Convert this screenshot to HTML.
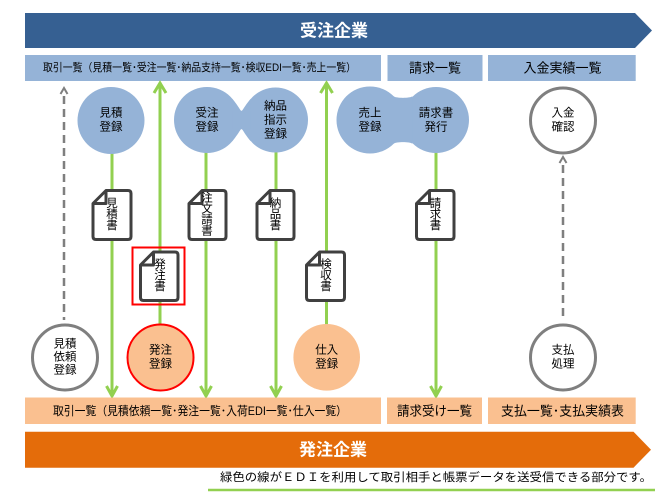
<!DOCTYPE html>
<html><head><meta charset="utf-8"><style>
html,body{margin:0;padding:0;background:#fff;}
svg{display:block;}
text{font-family:"Liberation Sans","Noto Sans CJK JP",sans-serif;fill:#000;}
</style></head><body>
<svg width="669" height="502" viewBox="0 0 669 502" xmlns="http://www.w3.org/2000/svg">
<!-- top banner -->
<polygon points="25,13 635,13 652,30.5 635,48 25,48" fill="#366092"/>
<text x="334" y="31" font-size="17" font-weight="bold" text-anchor="middle" dominant-baseline="central" style="fill:#fff">受注企業</text>
<!-- light blue boxes -->
<rect x="25" y="55" width="356" height="26" fill="#95B3D7"/>
<rect x="387.5" y="55" width="95" height="26" fill="#95B3D7"/>
<rect x="488" y="55" width="147.7" height="26" fill="#95B3D7"/>
<text x="43" y="68" font-size="11" dominant-baseline="central" textLength="313" lengthAdjust="spacingAndGlyphs">取引一覧（見積一覧･受注一覧･納品支持一覧･検収EDI一覧･売上一覧）</text>
<text x="409" y="68" font-size="13" dominant-baseline="central" textLength="52" lengthAdjust="spacingAndGlyphs">請求一覧</text>
<text x="523.5" y="68" font-size="13" dominant-baseline="central" textLength="78" lengthAdjust="spacingAndGlyphs">入金実績一覧</text>

<!-- gray dashed lines -->
<g stroke="#7F7F7F" stroke-width="2.5" fill="none">
<line x1="64" y1="96" x2="64" y2="320" stroke-dasharray="8 5"/>
<polyline points="60.5,94 64,88 67.5,94" stroke-width="2"/>
<line x1="563" y1="165" x2="563" y2="318" stroke-dasharray="8 5"/>
<polyline points="559.5,163 563,157 566.5,163" stroke-width="2"/>
</g>

<!-- green lines -->
<g stroke="#92D050" stroke-width="3" fill="none">
<line x1="112" y1="150" x2="112" y2="395"/>
<polyline points="106.5,386 112,396 117.5,386"/>
<line x1="160" y1="85" x2="160" y2="326"/>
<polyline points="154,93 160,83 166,93"/>
<line x1="206" y1="150" x2="206" y2="395"/>
<polyline points="200.5,386 206,396 211.5,386"/>
<line x1="276" y1="150" x2="276" y2="395"/>
<polyline points="270.5,386 276,396 281.5,386"/>
<line x1="326.5" y1="85" x2="326.5" y2="326"/>
<polyline points="320.5,93 326.5,83 332.5,93"/>
<line x1="436" y1="150" x2="436" y2="395"/>
<polyline points="430.5,386 436,396 441.5,386"/>
</g>

<!-- documents -->
<g stroke="#404040" stroke-width="3" fill="#fff" stroke-linejoin="round">
<path d="M93,203.5 L106,190.5 L128,190.5 Q131,190.5 131,193.5 L131,236.5 Q131,239.5 128,239.5 L96,239.5 Q93,239.5 93,236.5 Z"/>
<path d="M106,190.5 L106,203.5 L93,203.5" fill="none"/>
<path d="M189,203.5 L202,190.5 L223,190.5 Q226,190.5 226,193.5 L226,236.5 Q226,239.5 223,239.5 L192,239.5 Q189,239.5 189,236.5 Z"/>
<path d="M202,190.5 L202,203.5 L189,203.5" fill="none"/>
<path d="M257,203.5 L270,190.5 L291,190.5 Q294,190.5 294,193.5 L294,236.5 Q294,239.5 291,239.5 L260,239.5 Q257,239.5 257,236.5 Z"/>
<path d="M270,190.5 L270,203.5 L257,203.5" fill="none"/>
<path d="M416.5,203.5 L429.5,190.5 L451,190.5 Q454,190.5 454,193.5 L454,236.5 Q454,239.5 451,239.5 L419.5,239.5 Q416.5,239.5 416.5,236.5 Z"/>
<path d="M429.5,190.5 L429.5,203.5 L416.5,203.5" fill="none"/>
<path d="M140.5,265 L153.5,252 L175,252 Q178,252 178,255 L178,297.5 Q178,300.5 175,300.5 L143.5,300.5 Q140.5,300.5 140.5,297.5 Z"/>
<path d="M153.5,252 L153.5,265 L140.5,265" fill="none"/>
<path d="M306.5,265 L319.5,252 L341.5,252 Q344.5,252 344.5,255 L344.5,297.5 Q344.5,300.5 341.5,300.5 L309.5,300.5 Q306.5,300.5 306.5,297.5 Z"/>
<path d="M319.5,252 L319.5,265 L306.5,265" fill="none"/>
</g>
<rect x="132.5" y="247.5" width="52" height="57" fill="none" stroke="#FF0000" stroke-width="2"/>

<g font-size="11.5" text-anchor="middle" dominant-baseline="central">
<text x="112" y="204">見</text><text x="112" y="215">積</text><text x="112" y="226">書</text>
<text x="207" y="198.5">注</text><text x="207" y="209.5">文</text><text x="207" y="220.5">請</text><text x="207" y="231.5">書</text>
<text x="275.5" y="204">納</text><text x="275.5" y="215">品</text><text x="275.5" y="226">書</text>
<text x="435.5" y="204">請</text><text x="435.5" y="215">求</text><text x="435.5" y="226">書</text>
<text x="160" y="265">発</text><text x="160" y="276">注</text><text x="160" y="287">書</text>
<text x="326" y="265">検</text><text x="326" y="276">収</text><text x="326" y="287">書</text>
</g>

<!-- top circles -->
<g fill="#95B3D7">
<circle cx="111" cy="120.5" r="33.5"/>
<circle cx="207" cy="120" r="33"/>
<circle cx="275.5" cy="120" r="32.5"/>
<path d="M232.3,98.8 C245.8,114.9 237.2,114.9 250.7,98.8 L250.7,141.2 C237.2,125.1 245.8,125.1 232.3,141.2 Z"/>
<circle cx="370" cy="120" r="33.5"/>
<circle cx="436" cy="120" r="33"/>
<path d="M393.7,96.3 C395.8,98.4 410.2,98.4 412.3,96.3 L412.3,143.7 C410.2,141.6 395.8,141.6 393.7,143.7 Z"/>
</g>
<circle cx="563" cy="120.5" r="32.5" fill="#fff" stroke="#7F7F7F" stroke-width="3"/>

<g font-size="11.5" text-anchor="middle" dominant-baseline="central">
<text x="111" y="113.5">見積</text><text x="111" y="127.5">登録</text>
<text x="207" y="113.5">受注</text><text x="207" y="127.5">登録</text>
<text x="275.5" y="106.5">納品</text><text x="275.5" y="120.5">指示</text><text x="275.5" y="134.5">登録</text>
<text x="370" y="113.5">売上</text><text x="370" y="127.5">登録</text>
<text x="436" y="113.5">請求書</text><text x="436" y="127.5">発行</text>
<text x="563" y="113.5">入金</text><text x="563" y="127.5">確認</text>
</g>

<!-- bottom circles -->
<circle cx="65" cy="357.5" r="32.5" fill="#fff" stroke="#7F7F7F" stroke-width="3"/>
<circle cx="160.5" cy="357.5" r="33" fill="#FAC090" stroke="#FF0000" stroke-width="2"/>
<circle cx="326.7" cy="357.3" r="33.3" fill="#FAC090"/>
<circle cx="563" cy="357.5" r="32.5" fill="#fff" stroke="#7F7F7F" stroke-width="3"/>
<g font-size="11.5" text-anchor="middle" dominant-baseline="central">
<text x="65" y="344.5">見積</text><text x="65" y="357.5">依頼</text><text x="65" y="370.5">登録</text>
<text x="160.5" y="350.5">発注</text><text x="160.5" y="364.5">登録</text>
<text x="326.7" y="350.5">仕入</text><text x="326.7" y="364.5">登録</text>
<text x="563" y="350.5">支払</text><text x="563" y="364.5">処理</text>
</g>

<!-- orange boxes -->
<rect x="25" y="397.5" width="356" height="26.5" fill="#FAC090"/>
<rect x="387" y="397.5" width="95" height="26.5" fill="#FAC090"/>
<rect x="488" y="397.5" width="147.7" height="26.5" fill="#FAC090"/>
<text x="53" y="411" font-size="12" dominant-baseline="central" textLength="294" lengthAdjust="spacingAndGlyphs">取引一覧（見積依頼一覧･発注一覧･入荷EDI一覧･仕入一覧）</text>
<text x="397" y="411" font-size="13" dominant-baseline="central" textLength="75" lengthAdjust="spacingAndGlyphs">請求受け一覧</text>
<text x="501" y="411" font-size="13" dominant-baseline="central" textLength="123" lengthAdjust="spacingAndGlyphs">支払一覧･支払実績表</text>

<!-- bottom banner -->
<polygon points="25,431.7 633.5,431.7 651,449.7 633.5,467.7 25,467.7" fill="#E46C0A"/>
<text x="333" y="450" font-size="17" font-weight="bold" text-anchor="middle" dominant-baseline="central" style="fill:#fff">発注企業</text>

<!-- footer -->
<text x="220" y="478" font-size="11.5" dominant-baseline="central" textLength="432" lengthAdjust="spacingAndGlyphs">緑色の線がＥＤＩを利用して取引相手と帳票データを送受信できる部分です。</text>
<line x1="208" y1="490" x2="655" y2="490" stroke="#92D050" stroke-width="2.5"/>
</svg>
</body></html>
